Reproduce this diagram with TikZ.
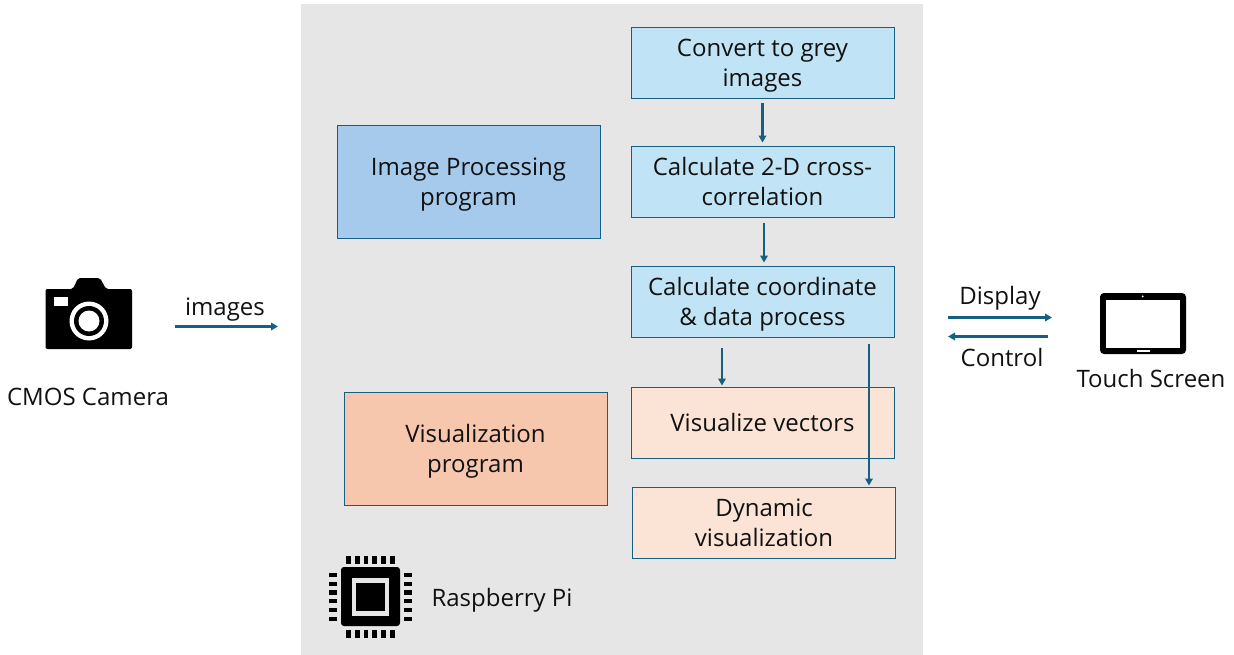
\documentclass[tikz,border=0pt]{standalone}
\usepackage{fontspec}
\setmainfont{Open Sans}
\usetikzlibrary{arrows.meta}
\definecolor{panelgrey}{HTML}{E6E6E6}
\definecolor{lightblue}{HTML}{C0E4F5}
\definecolor{midblue}{HTML}{A6CAEC}
\definecolor{midorange}{HTML}{F6C6AD}
\definecolor{lightorange}{HTML}{FBE3D6}
\definecolor{edgeblue}{HTML}{156082}
\definecolor{ink}{HTML}{111111}
\newcommand\topst{\rule{0pt}{24pt}}
\newcommand\topsu{\rule{0pt}{26pt}}
\newcommand\botst{\rule[-7pt]{0pt}{7pt}}
\tikzset{
  x=1pt,y=-1pt,
  txt/.style={font=\fontsize{24}{30}\selectfont,text=ink,inner sep=0pt,align=center},
  box/.style={txt,draw=edgeblue,line width=0.9pt,minimum width=263pt,minimum height=71pt,anchor=center},
  bigbox/.style={box,minimum height=113pt},
  arr/.style={draw=edgeblue,line width=2.2pt,-{Triangle[length=7pt,width=7.5pt]}}
}
\begin{document}
\begin{tikzpicture}
\useasboundingbox (0,0) rectangle (1234,655);
\fill[panelgrey] (301,4) rectangle (923,655);
% boxes
\node[box,fill=lightblue] (conv) at (762.5,62.5) {\topsu Convert to grey\\images\botst};
\node[box,fill=lightblue] (calc) at (762.5,181.5) {\topsu Calculate 2-D cross-\\correlation\botst};
\node[box,fill=lightblue] (coord) at (762.5,301.5) {\topst Calculate coordinate\\\& data process\botst};
\node[box,fill=lightorange] (vis) at (762.5,422.5) {\topst Visualize vectors\botst};
\node[box,fill=lightorange] (dyn) at (764,522.5) {\topst Dynamic\\visualization\botst};
\node[bigbox,fill=midblue] (ipp) at (468.5,181.5) {\topsu Image Processing\\program\botst};
\node[bigbox,fill=midorange] (vp) at (475.5,448.5) {\topst Visualization\\program\botst};
% free labels
\node[txt] (imgl) at (225,309.5) {images};
\node[txt] (caml) at (88,397) {CMOS Camera};
\node[txt] (displ) at (1000,298) {Display};
\node[txt] (ctrl) at (1002,357) {Control};
\node[txt] (touchl) at (1151,378) {Touch Screen};
\node[txt] (rpil) at (502,600) {Raspberry Pi};
% free ends
\coordinate (imgA) at (175,326.5);
\coordinate (imgB) at (278,326.5);
\coordinate (dispA) at (948,317.5);
\coordinate (dispB) at (1052,317.5);
\coordinate (ctlA) at (1048,336.5);
\coordinate (ctlB) at (948,336.5);
% arrows
\draw[arr] ([yshift=-5pt]conv.south) -- ([yshift=3pt]calc.north);
\draw[arr] ([xshift=1.5pt,yshift=-6pt]calc.south) -- ([xshift=1.5pt,yshift=3pt]coord.north);
\draw[arr] ([xshift=-40.5pt,yshift=-11pt]coord.south) -- ([xshift=-40.5pt,yshift=1pt]vis.north);
\draw[arr] ([xshift=106.5pt,yshift=-7pt]coord.south) -- ([xshift=105pt,yshift=1pt]dyn.north);
\draw[arr] (imgA) -- (imgB);
\draw[arr] (dispA) -- (dispB);
\draw[arr] (ctlA) -- (ctlB);
% camera icon
\fill[black,rounded corners=2pt] (45.5,289) -- (73,289) -- (78,278) -- (100,278) -- (106,289) -- (132,289) -- (132,349) -- (45.5,349) -- cycle;
\fill[white] (54,297) rectangle (68,306);
\fill[white] (89,321) circle[radius=19.5];
\fill[black] (89,321) circle[radius=15];
\fill[white] (89,321) circle[radius=10.5];
% chip icon
\fill[black,rounded corners=3pt] (341,567) rectangle (400,626);
\fill[panelgrey] (351.7,578) rectangle (389,616);
\fill[black] (356,583) rectangle (384.7,611);
\foreach \k in {0,...,5}{
  \fill[black] ({346.3+8.7*\k},556) rectangle ({351+8.7*\k},564);
  \fill[black] ({346.3+8.7*\k},630) rectangle ({351+8.7*\k},638);
  \fill[black] (328.7,{573+8.7*\k}) rectangle (336.7,{577.3+8.7*\k});
  \fill[black] (404,{573+8.7*\k}) rectangle (412,{577.3+8.7*\k});
}
% tablet icon
\fill[black,rounded corners=4pt] (1100,293) rectangle (1186,354);
\fill[white] (1106.3,300) rectangle (1180,348);
\fill[white] (1142.7,296.3) circle[radius=1];
\fill[white] (1137,349.5) rectangle (1149.7,352.3);
\end{tikzpicture}
\end{document}
